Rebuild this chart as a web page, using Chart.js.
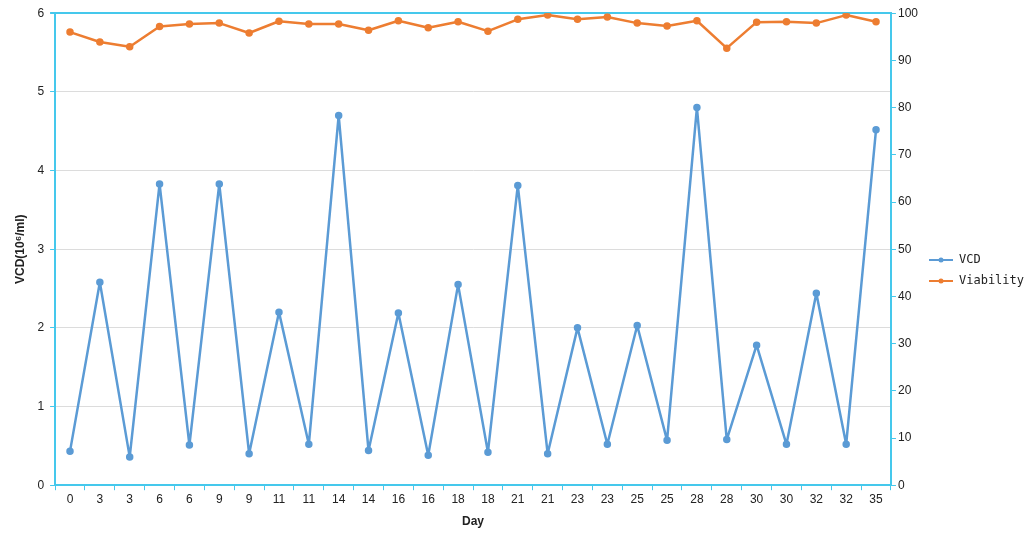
<!DOCTYPE html>
<html>
<head>
<meta charset="utf-8">
<script src="https://cdn.jsdelivr.net/npm/chart.js@4/dist/chart.umd.min.js"></script>
<style>
  html, body { margin: 0; padding: 0; background: #fff; }
  #wrap { width: 1035px; height: 542px; }
</style>
</head>
<body>
<div id="wrap"><canvas id="chart"></canvas></div>
<script>
const days = ['0','3','3','6','6','9','9','11','11','14','14','16','16','18','18','21','21','23','23','25','25','28','28','30','30','32','32','35'];
const vcd = [0.43, 2.58, 0.36, 3.83, 0.51, 3.83, 0.40, 2.20, 0.52, 4.70, 0.44, 2.19, 0.38, 2.55, 0.42, 3.81, 0.40, 2.00, 0.52, 2.03, 0.57, 4.80, 0.58, 1.78, 0.52, 2.44, 0.52, 4.52];
const viability = [96.0, 93.9, 92.9, 97.2, 97.7, 97.9, 95.8, 98.3, 97.7, 97.7, 96.4, 98.4, 96.9, 98.2, 96.2, 98.7, 99.6, 98.7, 99.2, 97.9, 97.3, 98.4, 92.6, 98.1, 98.2, 97.9, 99.6, 98.2];
const leftTicks = [0, 1, 2, 3, 4, 5, 6];
const rightTicks = [0, 10, 20, 30, 40, 50, 60, 70, 80, 90, 100];

const cyan = '#45c8ec';
const blue = '#5b9bd5';
const orange = '#ed7d31';

// kleines Legendensymbol: Linie mit Punkt
function legendMark(color) {
    const c = document.createElement('canvas');
    c.width = 24; c.height = 8;
    const g = c.getContext('2d');
    g.strokeStyle = color; g.lineWidth = 2;
    g.beginPath(); g.moveTo(0, 4); g.lineTo(24, 4); g.stroke();
    g.fillStyle = color;
    g.beginPath(); g.arc(12, 4, 2.5, 0, Math.PI * 2); g.fill();
    return c;
}

const ctx = document.getElementById('chart');
new Chart(ctx, {
    type: 'line',
    data: {
        labels: days,
        datasets: [{
            label: 'VCD',
            data: vcd,
            yAxisID: 'y',
            borderColor: blue,
            backgroundColor: blue,
            borderWidth: 2.5,
            borderJoinStyle: 'round',
            pointRadius: 2.5,
            tension: 0
        }, {
            label: 'Viability',
            data: viability,
            yAxisID: 'y1',
            borderColor: orange,
            backgroundColor: orange,
            borderWidth: 2.5,
            borderJoinStyle: 'round',
            pointRadius: 2.5,
            tension: 0
        }]
    },
    options: {
        responsive: true,
        maintainAspectRatio: false,
        animation: false,
        layout: { padding: { top: 8, right: 1, bottom: 9, left: 9 } },
        scales: {
            x: {
                offset: true,
                grid: { drawOnChartArea: false, offset: true, tickColor: cyan, tickLength: 5 },
                border: { color: cyan, width: 2 },
                ticks: { color: '#222', font: { family: 'Liberation Sans', size: 12 }, maxRotation: 0, autoSkip: false, padding: 2 },
                title: { display: true, text: 'Day', color: '#222', font: { family: 'Liberation Sans', size: 12, weight: 'bold' }, padding: { top: 6 } }
            },
            y: {
                position: 'left',
                min: 0, max: 6,
                afterBuildTicks: (s) => { s.ticks = leftTicks.map(v => ({ value: v })); },
                grid: {
                    color: (c) => (c.tick && c.tick.value === 6) ? cyan : '#dcdcdc',
                    lineWidth: (c) => (c.tick && c.tick.value === 6) ? 2 : 1,
                    tickColor: cyan, tickLength: 5
                },
                border: { color: cyan, width: 2 },
                ticks: { color: '#222', font: { family: 'Liberation Sans', size: 12 }, padding: 6 },
                title: { display: true, text: 'VCD(10⁶/ml)', color: '#222', font: { family: 'Liberation Sans', size: 12, weight: 'bold' }, padding: { bottom: 4 } }
            },
            y1: {
                position: 'right',
                min: 0, max: 100,
                afterBuildTicks: (s) => { s.ticks = rightTicks.map(v => ({ value: v })); },
                grid: { drawOnChartArea: false, tickColor: cyan, tickLength: 5 },
                border: { color: cyan, width: 2 },
                ticks: { color: '#222', font: { family: 'Liberation Sans', size: 12 }, padding: 2 }
            }
        },
        plugins: {
            legend: {
                position: 'right',
                align: 'center',
                labels: {
                    usePointStyle: true,
                    pointStyleWidth: 24,
                    color: '#222',
                    font: { family: 'DejaVu Sans Mono', size: 12 },
                    padding: 9,
                    generateLabels: (chart) => chart.data.datasets.map((ds, i) => ({
                        text: ds.label,
                        pointStyle: legendMark(ds.borderColor),
                        fillStyle: ds.borderColor,
                        strokeStyle: ds.borderColor,
                        lineWidth: 0,
                        fontColor: '#222',
                        datasetIndex: i
                    }))
                }
            },
            tooltip: { enabled: false }
        }
    }
});
</script>
</body>
</html>
